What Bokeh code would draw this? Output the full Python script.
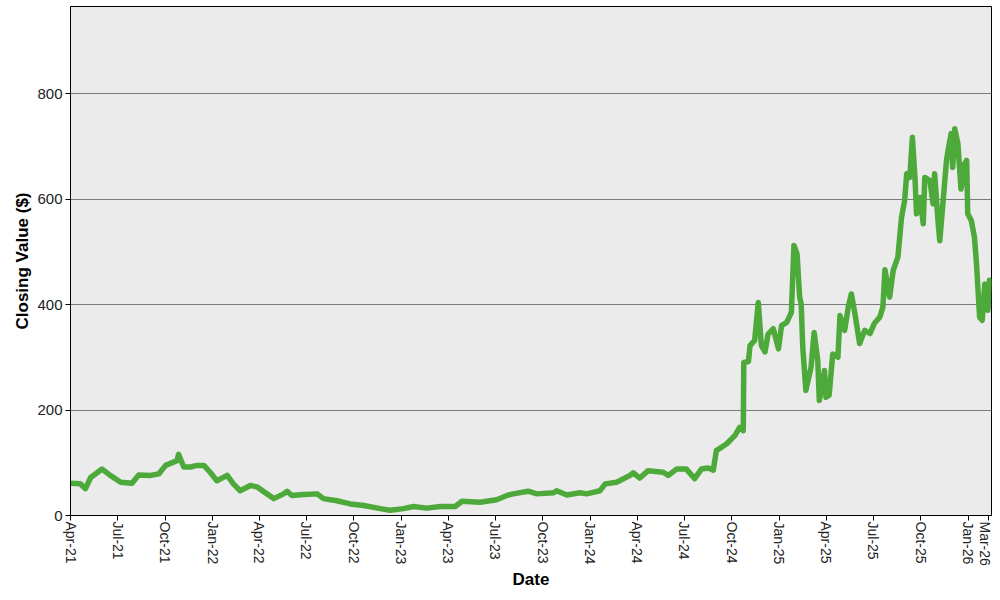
from datetime import datetime
import pandas as pd
from bokeh.plotting import figure
from bokeh.models import Range1d, FixedTicker, DatetimeTickFormatter, ColumnDataSource
from bokeh.embed import file_html
from bokeh.resources import INLINE

# ---- data ----
dates_2021 = ["2021-04-01", "2021-04-20", "2021-04-30", "2021-05-10", "2021-06-01", "2021-06-17",
              "2021-07-07", "2021-07-29", "2021-08-11", "2021-09-03", "2021-09-19", "2021-10-02",
              "2021-10-24", "2021-10-27", "2021-11-06", "2021-11-19", "2021-12-02", "2021-12-15",
              "2021-12-27"]
values_2021 = [61, 60, 51, 72, 88, 76, 63, 61, 77, 76, 79, 95, 104, 116, 92, 92, 95, 95, 82]

dates_2022 = ["2022-01-09", "2022-01-29", "2022-02-10", "2022-02-23", "2022-03-15", "2022-03-28",
              "2022-04-16", "2022-04-29", "2022-05-18", "2022-05-25", "2022-06-03", "2022-06-26",
              "2022-07-22", "2022-08-03", "2022-08-29", "2022-09-24", "2022-10-20", "2022-11-21",
              "2022-12-10"]
values_2022 = [66, 76, 60, 47, 57, 54, 41, 32, 41, 46, 38, 40, 41, 32, 28, 22, 19, 13, 10]

dates_2023 = ["2023-01-05", "2023-01-24", "2023-02-19", "2023-03-17", "2023-04-15", "2023-04-28",
              "2023-06-02", "2023-07-04", "2023-07-24", "2023-08-05", "2023-09-03", "2023-09-20",
              "2023-10-22", "2023-10-28", "2023-11-17", "2023-12-12", "2023-12-25"]
values_2023 = [13, 17, 14, 17, 17, 27, 25, 30, 38, 41, 46, 41, 43, 47, 39, 43, 41]

dates_2024 = ["2024-01-20", "2024-01-30", "2024-02-21", "2024-03-18", "2024-03-24", "2024-04-06",
              "2024-04-22", "2024-05-21", "2024-05-31", "2024-06-16", "2024-07-05", "2024-07-21",
              "2024-08-03", "2024-08-16", "2024-08-26", "2024-09-01", "2024-09-21", "2024-10-07",
              "2024-10-16", "2024-10-23", "2024-10-24", "2024-11-02", "2024-11-05", "2024-11-14",
              "2024-11-21", "2024-11-27", "2024-12-04", "2024-12-10", "2024-12-20", "2024-12-30"]
values_2024 = [47, 60, 63, 76, 81, 71, 85, 82, 76, 88, 88, 70, 88, 90, 86, 123, 136, 152,
               167, 161, 290, 292, 322, 332, 404, 322, 310, 344, 354, 316]

dates_2025 = ["2025-01-05", "2025-01-15", "2025-01-24", "2025-01-29", "2025-02-04", "2025-02-09",
              "2025-02-12", "2025-02-15", "2025-02-21", "2025-03-03", "2025-03-09", "2025-03-16",
              "2025-03-19", "2025-03-29", "2025-04-01", "2025-04-07", "2025-04-14", "2025-04-24",
              "2025-04-28", "2025-05-07", "2025-05-14", "2025-05-20", "2025-05-27", "2025-06-05",
              "2025-06-15", "2025-06-25", "2025-07-04", "2025-07-14", "2025-07-20", "2025-07-24",
              "2025-08-02", "2025-08-09", "2025-08-18", "2025-08-25", "2025-08-31", "2025-09-04",
              "2025-09-10", "2025-09-15", "2025-09-20", "2025-09-23", "2025-09-30", "2025-10-06",
              "2025-10-09", "2025-10-19", "2025-10-25", "2025-10-28", "2025-11-04", "2025-11-07",
              "2025-11-13", "2025-11-20", "2025-11-23", "2025-11-29", "2025-12-02", "2025-12-06",
              "2025-12-12", "2025-12-18", "2025-12-25", "2025-12-29", "2025-12-31"]
values_2025 = [360, 366, 385, 512, 496, 414, 401, 319, 237, 281, 347, 294,
               218, 275, 224, 228, 306, 300, 379, 351, 395, 420, 382, 326,
               351, 345, 365, 376, 395, 466, 414, 465, 490, 565, 597, 648,
               641, 717, 641, 572, 603, 553, 641, 635, 591, 648, 553, 521,
               591, 673, 692, 724, 660, 733, 705, 619, 667, 673, 572]

dates_2026 = ["2026-01-07", "2026-01-13", "2026-01-17", "2026-01-23", "2026-01-28", "2026-02-02",
              "2026-02-08", "2026-02-11", "2026-02-15"]
values_2026 = [559, 528, 477, 376, 370, 439, 389, 446, 433]

tick_dates = ["2021-04-01", "2021-07-01", "2021-10-01", "2022-01-01", "2022-04-01", "2022-07-01",
              "2022-10-01", "2023-01-01", "2023-04-01", "2023-07-01", "2023-10-01", "2024-01-01",
              "2024-04-01", "2024-07-01", "2024-10-01", "2025-01-01", "2025-04-01", "2025-07-01",
              "2025-10-01", "2026-01-01", "2026-02-10"]
tick_labels = ["Apr-21", "Jul-21", "Oct-21", "Jan-22", "Apr-22", "Jul-22", "Oct-22", "Jan-23",
               "Apr-23", "Jul-23", "Oct-23", "Jan-24", "Apr-24", "Jul-24", "Oct-24", "Jan-25",
               "Apr-25", "Jul-25", "Oct-25", "Jan-26", "Mar-26"]
y_ticks = [0, 200, 400, 600, 800]

all_dates = dates_2021 + dates_2022 + dates_2023 + dates_2024 + dates_2025 + dates_2026
all_values = values_2021 + values_2022 + values_2023 + values_2024 + values_2025 + values_2026

source = ColumnDataSource(dict(date=pd.to_datetime(all_dates), close=all_values))

p = figure(width=992, height=592, x_axis_type="datetime",
           x_range=Range1d(datetime(2021, 4, 1), datetime(2026, 2, 15)),
           y_range=Range1d(0, 965),
           output_backend="svg", toolbar_location=None,
           min_border_left=70, min_border_right=1, min_border_top=6, min_border_bottom=77,
           background_fill_color="#EBEBEB", border_fill_color="white",
           outline_line_color="#000000", outline_line_width=1)

p.line("date", "close", source=source, line_color="#4EA93B", line_width=5.5, line_join="round")

tick_ms = [pd.Timestamp(d).value / 1e6 for d in tick_dates]
p.xaxis.ticker = FixedTicker(ticks=tick_ms)
p.xaxis.formatter = DatetimeTickFormatter(days="%b-%y", months="%b-%y", years="%b-%y")
p.xaxis.major_label_overrides = {t: lab for t, lab in zip(tick_ms, tick_labels)}
p.xaxis.major_label_orientation = "vertical"
p.yaxis.ticker = FixedTicker(ticks=y_ticks)

p.xaxis.axis_label = "Date"
p.yaxis.axis_label = "Closing Value ($)"

for ax in (p.xaxis[0], p.yaxis[0]):
    ax.axis_line_color = "#000000"
    ax.axis_line_width = 1
    ax.major_tick_line_color = "#000000"
    ax.major_tick_out = 5
    ax.major_tick_in = 0
    ax.minor_tick_line_color = None
    ax.major_label_text_font = "Liberation Sans"
    ax.major_label_text_color = "#222222"
    ax.axis_label_text_font = "Liberation Sans"
    ax.axis_label_text_font_size = "17px"
    ax.axis_label_text_font_style = "bold"
    ax.axis_label_text_color = "#000000"
p.xaxis.major_label_text_font_size = "14px"
p.yaxis.major_label_text_font_size = "15px"
p.xaxis.major_label_standoff = 1
p.yaxis.major_label_standoff = 3
p.xaxis.axis_label_standoff = 1
p.yaxis.axis_label_standoff = 2

p.xgrid.grid_line_color = None
p.ygrid.grid_line_color = "#7A7A7A"
p.ygrid.grid_line_width = 1

open("out.html", "w").write(file_html(p, INLINE))
